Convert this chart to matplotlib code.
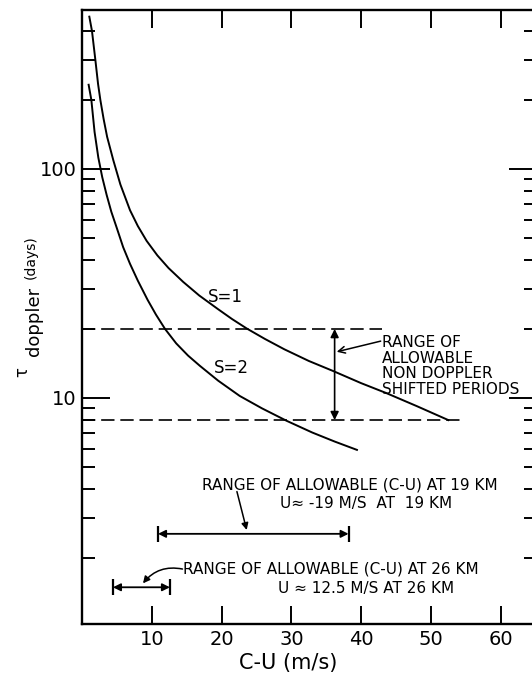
import numpy as np
import matplotlib
matplotlib.use('Agg')
import matplotlib.pyplot as plt
from matplotlib.ticker import FuncFormatter, NullFormatter, LogLocator

plt.rcParams['font.family'] = ['DejaVu Sans']

# curves: C-U (m/s) vs doppler shifted period (days)
s1_cu = [1.05, 1.43, 1.91, 2.3, 2.63, 3.1, 3.6, 4.49, 5.5, 6.88, 8.0, 9.26, 10.8,
         12.4, 14.5, 16.8, 19.5, 21.5, 23.6, 26.2, 29.0, 32.5, 36.0, 40.0, 43.6,
         48.0, 52.5]
s1_tau = [462, 400, 300, 235, 200, 165, 138, 109, 85.5, 66, 56.3, 48.5, 41.9,
          36.9, 32.1, 28.0, 24.4, 22.1, 20.1, 18.1, 16.3, 14.5, 13.1, 11.6, 10.5,
          9.2, 8.0]
s2_cu = [0.95, 1.34, 1.8, 2.34, 2.9, 3.53, 4.2, 4.96, 5.9, 6.88, 8.0, 9.4, 10.6,
         11.9, 13.5, 15.2, 16.9, 19.5, 22.6, 25.8, 29.3, 33.0, 36.2, 39.4]
s2_tau = [233, 200, 145, 112, 92, 77, 65, 55.5, 45.5, 38.5, 32.5, 26.8, 23.1,
          20.0, 17.3, 15.3, 13.8, 11.9, 10.2, 9.0, 7.95, 7.06, 6.45, 5.93]

# allowable non doppler shifted periods (days)
period_lo, period_hi = 8, 20
period_lo_end, period_hi_end = 54.5, 43.0
period_arrow_x = 36.2

# allowable (C-U) ranges
range19 = [10.9, 38.2]
range19_y = 2.55
range26 = [4.44, 12.6]
range26_y = 1.49

fig = plt.figure(figsize=(5.32, 6.74), dpi=100)
ax = fig.add_axes([82 / 532, 50 / 674, 455 / 532, 614 / 674])

ax.plot(s1_cu, s1_tau, color='k', lw=1.4)
ax.plot(s2_cu, s2_tau, color='k', lw=1.4)

dash = (0, (8, 3.5))
ax.plot([0, period_hi_end], [period_hi, period_hi], color='k', lw=1.2, ls=dash)
ax.plot([0, period_lo_end], [period_lo, period_lo], color='k', lw=1.2, ls=dash)

# vertical range of periods
ax.annotate('', xy=(period_arrow_x, period_hi), xytext=(period_arrow_x, period_lo),
            arrowprops=dict(arrowstyle='<|-|>', color='k', lw=1.2,
                            shrinkA=0, shrinkB=0, mutation_scale=12))
ax.annotate('', xy=(36.5, 15.9), xytext=(42.8, 17.7),
            arrowprops=dict(arrowstyle='->', color='k', lw=1.1,
                            shrinkA=0, shrinkB=0, mutation_scale=12))
ax.text(43.0, 13.8, 'RANGE OF\nALLOWABLE\nNON DOPPLER\nSHIFTED PERIODS',
        fontsize=11, ha='left', va='center', linespacing=1.05)

# horizontal ranges of C-U
for r, yy in [(range19, range19_y), (range26, range26_y)]:
    ax.annotate('', xy=(r[0], yy), xytext=(r[1], yy),
                arrowprops=dict(arrowstyle='<|-|>', color='k', lw=1.3,
                                shrinkA=0, shrinkB=0, mutation_scale=11))
    ax.plot(r, [yy, yy], ls='none', marker='|', ms=11, mew=1.6, color='k')

ax.text(17.15, 4.17, 'RANGE OF ALLOWABLE (C-U) AT 19 KM', fontsize=11,
        ha='left', va='center')
ax.text(28.4, 3.47, 'U\u2248 -19 M/S  AT  19 KM', fontsize=11,
        ha='left', va='center')
ax.annotate('', xy=(23.6, 2.65), xytext=(22.2, 3.9),
            arrowprops=dict(arrowstyle='-|>', color='k', lw=1.1,
                            shrinkA=0, shrinkB=0, mutation_scale=10))

ax.text(14.5, 1.79, 'RANGE OF ALLOWABLE (C-U) AT 26 KM', fontsize=11,
        ha='left', va='center')
ax.text(28.1, 1.475, 'U \u2248 12.5 M/S AT 26 KM', fontsize=11,
        ha='left', va='center')
ax.annotate('', xy=(8.74, 1.55), xytext=(14.4, 1.79),
            arrowprops=dict(arrowstyle='-|>', color='k', lw=1.1,
                            shrinkA=0, shrinkB=0, mutation_scale=10,
                            connectionstyle='arc3,rad=0.3'))

ax.text(20.5, 27.7, 'S=1', fontsize=12, ha='center', va='center')
ax.text(21.4, 13.5, 'S=2', fontsize=12, ha='center', va='center')

ax.set_yscale('log')
ax.set_xlim(0, 65.2)
ax.set_ylim(1.03, 494)
ax.set_xticks([10, 20, 30, 40, 50, 60])
ax.yaxis.set_major_locator(LogLocator(base=10))
ax.yaxis.set_minor_locator(LogLocator(base=10, subs=range(2, 10)))
ax.yaxis.set_major_formatter(FuncFormatter(lambda v, p: '%d' % v))
ax.yaxis.set_minor_formatter(NullFormatter())

ax.tick_params(axis='x', which='major', direction='in', top=True, length=13,
               width=1.4, labelsize=14, pad=4)
ax.tick_params(axis='y', which='major', direction='in', right=True, length=20,
               width=1.4, labelsize=14, pad=4)
ax.tick_params(axis='y', which='minor', direction='in', right=True, length=9.5,
               width=1.4)
for sp in ax.spines.values():
    sp.set_linewidth(1.7)

ax.set_xlabel('C-U (m/s)', fontsize=15)
ax.xaxis.set_label_coords(206 / 455, -29 / 614)

# y label: tau with a lowered "doppler" and (days)
fig.text(22 / 532, 1 - 372 / 674, '\u03c4', fontsize=12, rotation=90,
         ha='center', va='center')
fig.text(34 / 532, 1 - 321 / 674, 'doppler', fontsize=13, rotation=90,
         ha='center', va='center')
fig.text(31 / 532, 1 - 257 / 674, '(days)', fontsize=10, rotation=90,
         ha='center', va='center')

fig.savefig('out.png', dpi=100)
